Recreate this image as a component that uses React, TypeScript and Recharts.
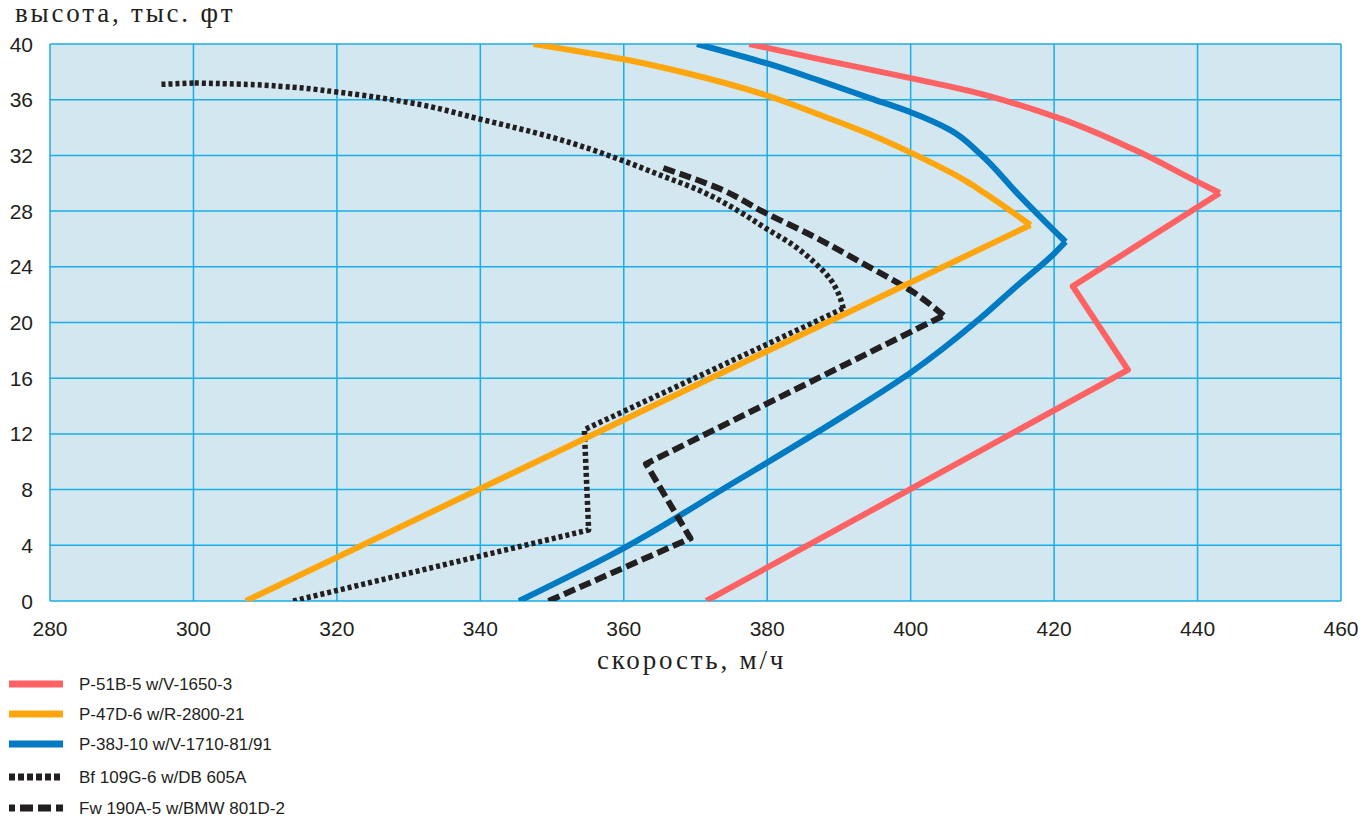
import React from 'react';
import { CartesianGrid, Line, LineChart, XAxis, YAxis } from 'recharts';

const SPEED_TICKS = [280, 300, 320, 340, 360, 380, 400, 420, 440, 460];
const ALT_TICKS = [0, 4, 8, 12, 16, 20, 24, 28, 32, 36, 40];

const p51Speed = [371.5, 430.3, 422.6, 443.1, 440.0, 431.2, 420.0, 408.0, 400.0, 387.4, 377.5];
const p51Alt = [0, 16.6, 22.6, 29.3, 30.1, 32.4, 34.8, 36.65, 37.55, 38.9, 40];

const p47Speed = [307.3, 416.7, 410.3, 407.9, 400.0, 394.4, 387.4, 380.0, 368.8, 360.0, 347.4];
const p47Alt = [0, 27.0, 29.3, 30.1, 32.2, 33.5, 34.9, 36.3, 37.9, 38.9, 40];

const p38Speed = [345.4, 360.0, 375.0, 391.0, 400.0, 409.7, 414.4, 420.0, 421.6, 420.0, 415.0, 409.7, 405.6, 400.0, 394.4, 387.4, 380.0, 370.2];
const p38Alt = [0, 3.8, 8.4, 13.4, 16.4, 20.3, 22.45, 24.95, 25.8, 26.6, 29.2, 32.1, 33.8, 35.1, 36.1, 37.35, 38.6, 40];

const bf109Speed = [313.9, 355.1, 354.5, 390.6, 390.0, 388.8, 386.4, 383.5, 380.0, 376.0, 370.5, 365.0, 360.0, 350.0, 340.0, 330.0, 320.0, 312.5, 307.5, 300.0, 295.5];
const bf109Alt = [0, 5.1, 12.3, 21.0, 22.0, 23.1, 24.4, 25.6, 26.7, 28.0, 29.5, 30.6, 31.6, 33.3, 34.6, 35.8, 36.55, 36.95, 37.1, 37.2, 37.1];

const fw190Speed = [349.5, 369.3, 363.1, 404.6, 400.3, 394.0, 386.0, 380.0, 373.4, 365.2];
const fw190Alt = [0, 4.5, 9.85, 20.5, 22.2, 24.05, 26.3, 27.8, 29.6, 31.15];

const toPoints = (speed: number[], alt: number[]) => speed.map((s, i) => ({ speed: s, alt: alt[i] }));

type Seg = [number, number, 'linear' | 'monotoneY'];

// legend order; segs = which stretches are straight and which are smooth
const SERIES = [
  {
    key: 'p51', name: 'P-51B-5 w/V-1650-3', color: '#ff6262', dash: undefined, width: 6,
    data: toPoints(p51Speed, p51Alt), segs: [[0, 3, 'linear'], [3, 10, 'monotoneY']] as Seg[],
  },
  {
    key: 'p47', name: 'P-47D-6 w/R-2800-21', color: '#ffa60f', dash: undefined, width: 6,
    data: toPoints(p47Speed, p47Alt), segs: [[0, 1, 'linear'], [1, 10, 'monotoneY']] as Seg[],
  },
  {
    key: 'p38', name: 'P-38J-10 w/V-1710-81/91', color: '#007ac2', dash: undefined, width: 6,
    data: toPoints(p38Speed, p38Alt), segs: [[0, 8, 'monotoneY'], [8, 17, 'monotoneY']] as Seg[],
  },
  {
    key: 'bf109', name: 'Bf 109G-6 w/DB 605A', color: '#231f20', dash: '4 3', width: 5.5,
    data: toPoints(bf109Speed, bf109Alt), segs: [[0, 3, 'linear'], [3, 19, 'monotoneY'], [19, 20, 'linear']] as Seg[],
  },
  {
    key: 'fw190', name: 'Fw 190A-5 w/BMW 801D-2', color: '#231f20', dash: '12 5', width: 6,
    data: toPoints(fw190Speed, fw190Alt), segs: [[0, 3, 'linear'], [3, 9, 'monotoneY']] as Seg[],
  },
];

// drawing order (what lies on top)
const DRAW_ORDER = ['p38', 'bf109', 'fw190', 'p47', 'p51'];

const TICK_FONT = '"Liberation Sans", Arial, sans-serif';
const TITLE_FONT = '"Liberation Serif", "Times New Roman", serif';
const INK = '#231f20';

const XTick = (props: any) => (
  <text x={props.x} y={props.y + 35} textAnchor="middle" fontFamily={TICK_FONT} fontSize={21} fill={INK}>
    {props.payload.value}
  </text>
);

const YTick = (props: any) => (
  <text x={props.x - 17} y={props.y + 7.5} textAnchor="end" fontFamily={TICK_FONT} fontSize={21} fill={INK}>
    {props.payload.value}
  </text>
);

const LEGEND_Y = [676, 706, 736, 769, 800];

export default function App() {
  const lines: React.ReactNode[] = [];
  DRAW_ORDER.forEach((k) => {
    const s = SERIES.find((x) => x.key === k)!;
    s.segs.forEach(([from, to, type], j) => {
      lines.push(
        <Line
          key={`${s.key}-${j}`}
          data={s.data.slice(from, to + 1)}
          dataKey="alt"
          name={s.name}
          type={type}
          stroke={s.color}
          strokeWidth={s.width}
          strokeDasharray={s.dash}
          strokeLinejoin="round"
          dot={false}
          activeDot={false}
          isAnimationActive={false}
        />,
      );
    });
  });

  return (
    <div style={{ position: 'relative', width: 1350, height: 815 }}>
      <LineChart width={1350} height={643} margin={{ top: 36, right: 17, left: 0, bottom: 0 }}>
        <CartesianGrid fill="#d2e7f0" stroke="#1aade6" strokeWidth={1.5} />
        <XAxis
          type="number"
          dataKey="speed"
          domain={[280, 460]}
          ticks={SPEED_TICKS}
          interval={0}
          allowDataOverflow
          axisLine={false}
          tickLine={false}
          tickSize={0}
          tickMargin={0}
          height={50}
          tick={<XTick />}
        />
        <YAxis
          type="number"
          domain={[0, 40]}
          ticks={ALT_TICKS}
          interval={0}
          allowDataOverflow
          axisLine={false}
          tickLine={false}
          tickSize={0}
          tickMargin={0}
          width={42}
          tick={<YTick />}
        />
        {lines}
      </LineChart>
      <svg
        width={1350}
        height={815}
        style={{ position: 'absolute', left: 0, top: 0, pointerEvents: 'none', overflow: 'visible' }}
      >
        <text x={7} y={14} fontFamily={TITLE_FONT} fontSize={27} letterSpacing={2.8} fill={INK}>
          высота, тыс. фт
        </text>
        <text x={589} y={661} fontFamily={TITLE_FONT} fontSize={27} letterSpacing={2.8} fill={INK}>
          скорость, м/ч
        </text>
        {SERIES.map((s, i) => (
          <g key={s.key}>
            <line
              x1={1}
              x2={55}
              y1={LEGEND_Y[i]}
              y2={LEGEND_Y[i]}
              stroke={s.color}
              strokeWidth={7}
              strokeDasharray={s.key === 'bf109' ? '6 3' : s.key === 'fw190' ? '13 5' : undefined}
              strokeDashoffset={s.key === 'fw190' ? 7 : 0}
            />
            <text x={71} y={LEGEND_Y[i] + 6} fontFamily={TICK_FONT} fontSize={17} fill={INK}>
              {s.name}
            </text>
          </g>
        ))}
      </svg>
    </div>
  );
}
